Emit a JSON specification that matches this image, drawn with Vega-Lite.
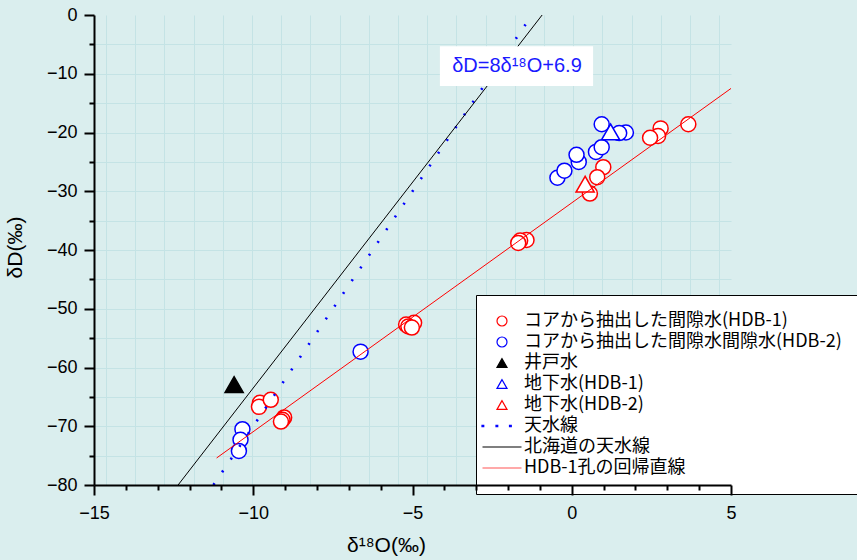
{
  "$schema": "https://vega.github.io/schema/vega-lite/v6.json",
  "width": 637,
  "height": 470,
  "autosize": {"type": "none"},
  "padding": {"left": 94, "top": 15, "right": 126, "bottom": 75},
  "background": "#daeeee",
  "config": {
    "view": {"stroke": null, "fill": "#daeeee"},
    "axis": {
      "labelFont": "Liberation Sans",
      "titleFont": "Liberation Sans",
      "labelColor": "black",
      "titleColor": "black",
      "domainColor": "black",
      "tickColor": "black",
      "titleFontWeight": "normal",
      "gridColor": "#c4e3e5",
      "gridWidth": 1
    }
  },
  "datasets": {
    "circles": [
      {"series": "コアから抽出した間隙水間隙水(HDB-2)", "o18": -10.34, "dD": -70.5},
      {"series": "コアから抽出した間隙水間隙水(HDB-2)", "o18": -10.40, "dD": -72.3},
      {"series": "コアから抽出した間隙水間隙水(HDB-2)", "o18": -10.45, "dD": -74.2},
      {"series": "コアから抽出した間隙水間隙水(HDB-2)", "o18": -6.63, "dD": -57.3},
      {"series": "コアから抽出した間隙水間隙水(HDB-2)", "o18": -0.45, "dD": -27.7},
      {"series": "コアから抽出した間隙水間隙水(HDB-2)", "o18": -0.23, "dD": -26.5},
      {"series": "コアから抽出した間隙水間隙水(HDB-2)", "o18": 0.22, "dD": -25.0},
      {"series": "コアから抽出した間隙水間隙水(HDB-2)", "o18": 0.15, "dD": -23.8},
      {"series": "コアから抽出した間隙水間隙水(HDB-2)", "o18": 0.76, "dD": -23.3},
      {"series": "コアから抽出した間隙水間隙水(HDB-2)", "o18": 0.94, "dD": -22.5},
      {"series": "コアから抽出した間隙水間隙水(HDB-2)", "o18": 0.94, "dD": -18.6},
      {"series": "コアから抽出した間隙水間隙水(HDB-2)", "o18": 1.70, "dD": -20.0},
      {"series": "コアから抽出した間隙水間隙水(HDB-2)", "o18": 1.49, "dD": -20.1},
      {"series": "コアから抽出した間隙水(HDB-1)", "o18": -9.79, "dD": -66.0},
      {"series": "コアから抽出した間隙水(HDB-1)", "o18": -9.82, "dD": -66.7},
      {"series": "コアから抽出した間隙水(HDB-1)", "o18": -9.45, "dD": -65.5},
      {"series": "コアから抽出した間隙水(HDB-1)", "o18": -9.03, "dD": -68.5},
      {"series": "コアから抽出した間隙水(HDB-1)", "o18": -9.08, "dD": -68.9},
      {"series": "コアから抽出した間隙水(HDB-1)", "o18": -9.13, "dD": -69.2},
      {"series": "コアから抽出した間隙水(HDB-1)", "o18": -4.95, "dD": -52.4},
      {"series": "コアから抽出した間隙水(HDB-1)", "o18": -5.20, "dD": -52.7},
      {"series": "コアから抽出した間隙水(HDB-1)", "o18": -5.13, "dD": -53.0},
      {"series": "コアから抽出した間隙水(HDB-1)", "o18": -5.02, "dD": -53.2},
      {"series": "コアから抽出した間隙水(HDB-1)", "o18": -1.42, "dD": -38.3},
      {"series": "コアから抽出した間隙水(HDB-1)", "o18": -1.62, "dD": -38.4},
      {"series": "コアから抽出した間隙水(HDB-1)", "o18": -1.68, "dD": -38.8},
      {"series": "コアから抽出した間隙水(HDB-1)", "o18": 0.99, "dD": -25.9},
      {"series": "コアから抽出した間隙水(HDB-1)", "o18": 0.80, "dD": -27.6},
      {"series": "コアから抽出した間隙水(HDB-1)", "o18": 0.57, "dD": -30.4},
      {"series": "コアから抽出した間隙水(HDB-1)", "o18": 2.79, "dD": -19.3},
      {"series": "コアから抽出した間隙水(HDB-1)", "o18": 2.71, "dD": -20.6},
      {"series": "コアから抽出した間隙水(HDB-1)", "o18": 2.46, "dD": -20.9},
      {"series": "コアから抽出した間隙水(HDB-1)", "o18": 3.66, "dD": -18.6}
    ],
    "triangles": [
      {"series": "井戸水", "o18": -10.6, "dD": -62.9},
      {"series": "地下水(HDB-1)", "o18": 1.22, "dD": -19.9},
      {"series": "地下水(HDB-2)", "o18": 0.42, "dD": -28.8}
    ],
    "mwl": [{"o18": -11.25, "dD": -80}, {"o18": -1.25, "dD": 0}],
    "hokkaido": [{"o18": -12.36, "dD": -80}, {"o18": -0.93, "dD": 0}],
    "regression": [{"o18": -11.15, "dD": -75.4}, {"o18": 5.0, "dD": -12.5}],
    "note": [{"x1": -4.14, "x2": 0.67, "y1": -5.3, "y2": -12.1, "tx": -1.72, "ty": -8.75, "label": "δD=8δ¹⁸O+6.9"}]
  },
  "layer": [
    {
      "data": {"name": "circles"},
      "mark": {"type": "point", "filled": true, "opacity": 1, "strokeWidth": 1.5, "size": 225},
      "encoding": {
        "x": {
          "field": "o18", "type": "quantitative",
          "scale": {"domain": [-15, 5], "nice": false, "zero": false},
          "axis": {
            "values": [-15, -14, -13, -12, -11, -10, -9, -8, -7, -6, -5, -4, -3, -2, -1, 0, 1, 2, 3, 4, 5],
            "labelExpr": "datum.value % 5 === 0 ? datum.label : ''",
            "labelFlush": false, "labelOverlap": false,
            "ticks": true, "tickSize": 10, "tickColor": "#000000", "tickOpacity": 1,
            "tickDash": {"condition": {"test": "datum.value % 5 !== 0", "value": [5, 30]}, "value": [10, 0]},
            "tickWidth": 2, "domainWidth": 2,
            "labelFontSize": 18, "labelPadding": 9, "grid": false,
            "title": "δ¹⁸O(‰)", "titleFontSize": 21,
            "titleX": 292, "titleY": 66, "titleBaseline": "alphabetic", "titleAlign": "center",
            "zindex": 1
          }
        },
        "y": {
          "field": "dD", "type": "quantitative",
          "scale": {"domain": [-80, 0], "nice": false, "zero": false},
          "axis": {
            "values": [0, -5, -10, -15, -20, -25, -30, -35, -40, -45, -50, -55, -60, -65, -70, -75, -80],
            "labelExpr": "datum.value % 10 === 0 ? datum.label : ''",
            "labelFlush": false, "labelOverlap": false,
            "ticks": true, "tickSize": 10, "tickColor": "#000000", "tickOpacity": 1,
            "tickDash": {"condition": {"test": "datum.value % 10 !== 0", "value": [5, 30]}, "value": [10, 0]},
            "tickWidth": 2, "domainWidth": 2,
            "labelFontSize": 18, "labelPadding": 7, "grid": false,
            "title": "δD(‰)", "titleFontSize": 21,
            "titleX": -79, "titleY": 232, "titleAngle": -90, "titleBaseline": "middle", "titleAlign": "center",
            "zindex": 1
          }
        },
        "shape": {
          "field": "series", "type": "nominal",
          "scale": {
            "domain": ["コアから抽出した間隙水(HDB-1)", "コアから抽出した間隙水間隙水(HDB-2)", "井戸水", "地下水(HDB-1)", "地下水(HDB-2)", "天水線", "北海道の天水線", "HDB-1孔の回帰直線"],
            "range": ["circle", "circle", "triangle-up", "triangle-up", "triangle-up", "M-4.0,-0.15h0.35v0.3h-0.35z M-1.2,-0.15h0.35v0.3h-0.35z M1.5,-0.15h0.35v0.3h-0.35z", "M-3.9,0H3.9", "M-3.9,0H3.9"]
          },
          "legend": {
            "title": null, "orient": "none", "legendX": 382, "legendY": 280,
            "padding": 17, "fillColor": "white", "strokeColor": "black",
            "labelFont": "Noto Sans CJK JP", "labelFontSize": 18, "labelColor": "black",
            "symbolSize": 100, "symbolStrokeWidth": 1.2, "labelOffset": 13, "rowPadding": 3,
            "labelLimit": 0
          }
        },
        "fill": {
          "field": "series", "type": "nominal",
          "scale": {
            "domain": ["コアから抽出した間隙水(HDB-1)", "コアから抽出した間隙水間隙水(HDB-2)", "井戸水", "地下水(HDB-1)", "地下水(HDB-2)", "天水線", "北海道の天水線", "HDB-1孔の回帰直線"],
            "range": ["white", "white", "black", "white", "white", "blue", "white", "white"]
          }
        },
        "stroke": {
          "field": "series", "type": "nominal",
          "scale": {
            "domain": ["コアから抽出した間隙水(HDB-1)", "コアから抽出した間隙水間隙水(HDB-2)", "井戸水", "地下水(HDB-1)", "地下水(HDB-2)", "天水線", "北海道の天水線", "HDB-1孔の回帰直線"],
            "range": ["#ff0000", "#0000ff", "black", "#0000ff", "#ff0000", "#0000ff", "black", "#ff5555"]
          }
        }
      }
    },
    {
      "data": {"name": "triangles"},
      "mark": {"type": "point", "filled": true, "opacity": 1, "strokeWidth": 1.5, "size": 330},
      "encoding": {
        "x": {"field": "o18", "type": "quantitative", "scale": {"domain": [-15, 5], "nice": false, "zero": false}, "axis": null},
        "y": {"field": "dD", "type": "quantitative", "scale": {"domain": [-80, 0], "nice": false, "zero": false}, "axis": null},
        "shape": {"field": "series", "type": "nominal"},
        "fill": {"field": "series", "type": "nominal"},
        "stroke": {"field": "series", "type": "nominal"}
      }
    },
    {
      "data": {"name": "mwl"},
      "mark": {"type": "line", "color": "#0000ff", "strokeWidth": 2.6, "strokeDash": [2, 13.4]},
      "encoding": {
        "x": {"field": "o18", "type": "quantitative", "scale": {"domain": [-15, 5], "nice": false, "zero": false}, "axis": null},
        "y": {"field": "dD", "type": "quantitative", "scale": {"domain": [-80, 0], "nice": false, "zero": false}, "axis": null}
      }
    },
    {
      "data": {"name": "hokkaido"},
      "mark": {"type": "line", "color": "black", "strokeWidth": 1},
      "encoding": {
        "x": {
          "field": "o18", "type": "quantitative", "scale": {"domain": [-15, 5], "nice": false, "zero": false},
          "axis": {"values": [-14.623, -13.706, -12.789, -11.873, -10.956, -10.039, -9.122, -8.205, -7.289, -6.372, -5.455, -4.538, -3.621, -2.705, -1.788, -0.871, 0.046, 0.963, 1.88, 2.796, 3.713, 4.63], "ticks": false, "labels": false, "domain": false, "grid": true, "title": null, "zindex": 0}
        },
        "y": {
          "field": "dD", "type": "quantitative", "scale": {"domain": [-80, 0], "nice": false, "zero": false},
          "axis": {"values": [-75, -70, -65, -60, -55, -50, -45, -40, -35, -30, -25, -20, -15, -10, -5], "ticks": false, "labels": false, "domain": false, "grid": true, "title": null, "zindex": 0}
        }
      }
    },
    {
      "data": {"name": "regression"},
      "mark": {"type": "line", "color": "#ff0000", "strokeWidth": 1},
      "encoding": {
        "x": {"field": "o18", "type": "quantitative", "scale": {"domain": [-15, 5], "nice": false, "zero": false}, "axis": null},
        "y": {"field": "dD", "type": "quantitative", "scale": {"domain": [-80, 0], "nice": false, "zero": false}, "axis": null}
      }
    },
    {
      "data": {"name": "note"},
      "mark": {"type": "rect", "fill": "white", "stroke": null},
      "encoding": {
        "x": {"field": "x1", "type": "quantitative", "scale": {"domain": [-15, 5], "nice": false, "zero": false}, "axis": null},
        "x2": {"field": "x2"},
        "y": {"field": "y1", "type": "quantitative", "scale": {"domain": [-80, 0], "nice": false, "zero": false}, "axis": null},
        "y2": {"field": "y2"}
      }
    },
    {
      "data": {"name": "note"},
      "mark": {"type": "text", "font": "Liberation Sans", "fontSize": 20, "color": "#1a1aff", "align": "center", "baseline": "middle"},
      "encoding": {
        "x": {"field": "tx", "type": "quantitative", "scale": {"domain": [-15, 5], "nice": false, "zero": false}, "axis": null},
        "y": {"field": "ty", "type": "quantitative", "scale": {"domain": [-80, 0], "nice": false, "zero": false}, "axis": null},
        "text": {"field": "label"}
      }
    }
  ],
  "resolve": {"axis": {"x": "independent", "y": "independent"}}
}
